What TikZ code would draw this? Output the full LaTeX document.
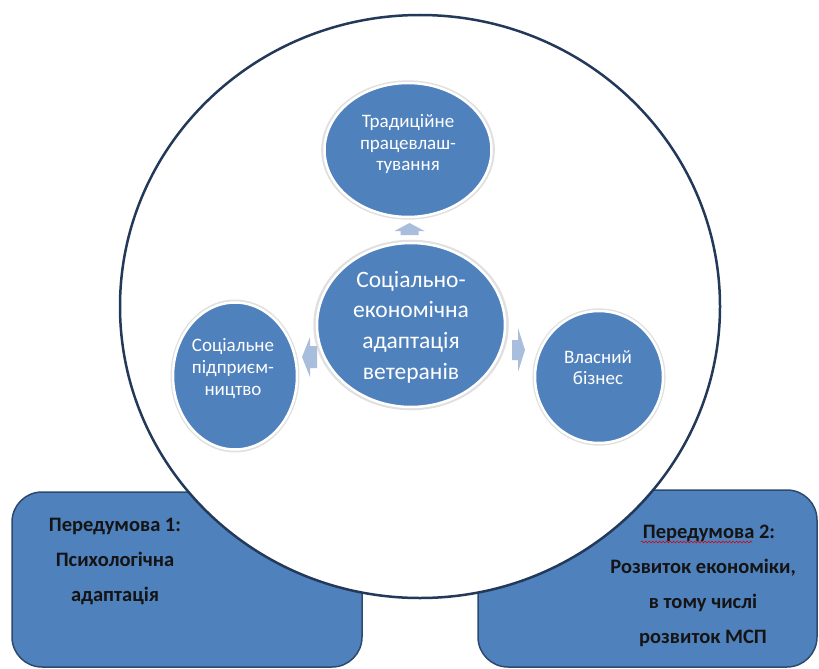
\documentclass[tikz,border=0pt]{standalone}
\usepackage{fontspec}
\setmainfont{Carlito}
\usetikzlibrary{shapes.geometric,decorations.pathmorphing,calc,shadows}
\definecolor{bubfill}{HTML}{4F81BD}
\definecolor{boxline}{HTML}{2C4A6E}
\definecolor{bigline}{HTML}{23395A}
\definecolor{arrowc}{HTML}{A9BEDC}
\definecolor{boxtext}{HTML}{141414}
\begin{document}
\begin{tikzpicture}[x=1pt,y=-1pt,
  bub/.style={ellipse, fill=bubfill, draw=white, line width=2.5pt, inner sep=0pt,
    general shadow={fill=black, opacity=0.12, shadow scale=1.04}},
  bubtext/.style={text=white, align=center, inner sep=0pt},
  prebox/.style={rectangle, rounded corners=30pt, fill=bubfill, draw=boxline, line width=1.5pt, inner sep=0pt},
  pretext/.style={text=boxtext, align=center, inner sep=0pt, font=\bfseries\fontsize{20.5}{35}\selectfont},
  blockarrow/.style={fill=arrowc}]
\useasboundingbox (0,0) rectangle (819,669);

% premise boxes
\node[prebox, minimum width=350pt, minimum height=175pt] (p1) at (187,579.5) {};
\node[prebox, minimum width=339pt, minimum height=177pt] (p2) at (647.5,578.5) {};

% big circle
\node[ellipse, draw=bigline, fill=white, line width=2.5pt, inner sep=0pt,
      minimum width=600pt, minimum height=583pt] (big) at (420,306.5) {};

% premise texts
\node[pretext] (p1t) at (115,561) {Передумова 1:\\Психологічна\\адаптація};
\node[pretext] (p2t) at (703,585.5) {\hspace*{12pt}Передумова 2:\\Розвиток економіки,\\в тому числі\\розвиток МСП};
\draw[red!85!black, line width=0.6pt, decorate, decoration={snake, amplitude=0.9pt, segment length=3.5pt}]
  (641,542) -- (752,542);

% bubbles
\node[bub, minimum width=167pt, minimum height=134pt] (t) at (408,150) {};
\node[bub, minimum width=188pt, minimum height=164pt] (c) at (411,325) {};
\node[bub, minimum width=124pt, minimum height=147pt] (l) at (235,376) {};
\node[bub, minimum width=128pt, minimum height=132pt] (r) at (599,377) {};

\node[bubtext, font=\fontsize{19}{21.5}\selectfont] (tt) at (408,144) {Традиційне\\працевлаш-\\тування};
\node[bubtext, font=\fontsize{23.5}{30.7}\selectfont] (ct) at (411,327) {Соціально-\\економічна\\адаптація\\ветеранів};
\node[bubtext, font=\fontsize{19}{22}\selectfont] (lt) at (233,369) {Соціальне\\підприєм-\\ництво};
\node[bubtext, font=\fontsize{19}{21}\selectfont] (rt) at (598,368) {Власний\\бізнес};

% small block arrows
\coordinate (atop) at ($(t.south)!0.5!(c.north)$);
\coordinate (aleft) at (310,357);
\coordinate (aright) at (518,350);
\fill[blockarrow] (atop) ++(-9,5) -- ++(0,-4) -- ++(-6,0) -- ++(15,-8) -- ++(15,8) -- ++(-6,0) -- ++(0,4) -- cycle;
\fill[blockarrow] (aleft) ++(7,-11) -- ++(-7,0) -- ++(0,-9) -- ++(-8,20) -- ++(8,20) -- ++(0,-9) -- ++(7,0) -- cycle;
\fill[blockarrow] (aright) ++(-6,-10) -- ++(6,0) -- ++(0,-12) -- ++(7,22) -- ++(-7,22) -- ++(0,-12) -- ++(-6,0) -- cycle;
\end{tikzpicture}
\end{document}
